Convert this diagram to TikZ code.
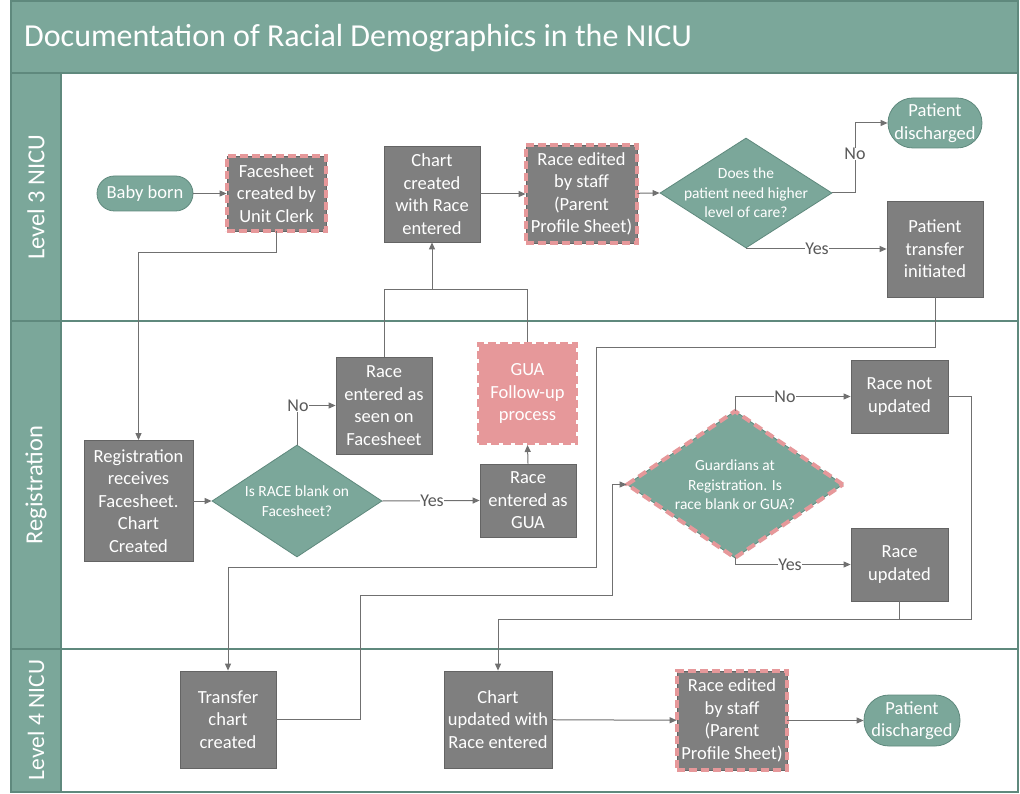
\documentclass[tikz,border=0pt]{standalone}
\usepackage{fontspec}
\setmainfont{Carlito}
\usetikzlibrary{arrows.meta,shapes.geometric}
\definecolor{teal1}{RGB}{123,167,154}
\definecolor{teal2}{RGB}{95,137,125}
\definecolor{gbox}{RGB}{127,127,127}
\definecolor{gline}{RGB}{100,100,100}
\definecolor{pinkd}{RGB}{230,152,154}
\definecolor{conn}{RGB}{112,112,112}
\definecolor{labc}{RGB}{89,89,89}
\newcommand{\boxfnt}{\fontsize{18.5}{22.5}\selectfont}
\newcommand{\diafnt}{\fontsize{15.5}{19.5}\selectfont}
\tikzset{
  procbox/.style={draw=gline, fill=gbox, text=white, align=center, font=\boxfnt, inner sep=1pt, line width=0.8pt},
  pinkdash/.style={procbox, postaction={draw=pinkd, line width=4pt, dash pattern=on 8pt off 4pt}},
  termbox/.style={draw=teal2, fill=teal1, text=white, align=center, font=\boxfnt, inner sep=1pt, line width=0.8pt},
  diabox/.style={diamond, draw=teal2, fill=teal1, inner sep=0pt, line width=0.8pt},
  diatext/.style={text=white, align=center, font=\diafnt, inner sep=0pt},
  guabox/.style={fill=pinkd, draw=pinkd, line width=4pt, dash pattern=on 8pt off 4pt, text=white, align=center, font=\boxfnt, inner sep=1pt},
  cn/.style={draw=conn, line width=1pt},
  ca/.style={cn, -{Triangle[length=7pt,width=6pt]}},
  lbl/.style={fill=white, text=labc, font=\fontsize{18}{20}\selectfont, inner sep=0.5pt},
  lanelbl/.style={text=white, font=\fontsize{24.5}{26}\selectfont, rotate=90},
}
\begin{document}
\begin{tikzpicture}[x=1pt,y=-1pt]
\useasboundingbox (0,0) rectangle (1020,794);
\fill[white] (0,0) rectangle (1020,794);
% frame
\fill[teal1] (11,1) rectangle (1018,73);
\fill[teal1] (11,73) rectangle (61,792);
\draw[teal2, line width=2pt] (11,73) -- (1018,73);
\draw[teal2, line width=2pt] (11,321) -- (1018,321);
\draw[teal2, line width=2pt] (11,649) -- (1018,649);
\draw[teal2, line width=1.2pt] (61,73) -- (61,792);
\draw[teal2, line width=2pt] (11,1) rectangle (1018,792);
\node[anchor=west, text=white, font=\fontsize{32}{36}\selectfont, inner sep=0pt] (title) at (24,38) {Documentation of Racial Demographics in the NICU};
\node[lanelbl] (l3) at (36,197) {Level 3 NICU};
\node[lanelbl] (lr) at (36,485) {Registration};
\node[lanelbl, font=\fontsize{23.5}{26}\selectfont] (l4) at (36,720) {Level 4 NICU};

% Level 3 nodes
\node[termbox, rounded corners=17.5pt, minimum width=96, minimum height=35] (baby) at (145,193.5) {Baby born};
\node[pinkdash, minimum width=99, minimum height=75] (face) at (276.5,193.5) {Facesheet\\created by\\Unit Clerk};
\node[procbox, minimum width=96, minimum height=96] (chart3) at (432,194) {Chart\\created\\with Race\\entered};
\node[pinkdash, minimum width=111, minimum height=98] (edit3) at (581.5,194) {Race edited\\by staff\\(Parent\\Profile Sheet)};
\node[diabox, minimum width=172, minimum height=110] (dq1) at (746,193) {};
\node[diatext] (dq1t) at (746,193) {Does the\\patient need higher\\level of care?};
\node[termbox, rounded corners=25pt, minimum width=94, minimum height=50] (pd1) at (935,123) {Patient\\discharged};
\node[procbox, minimum width=96, minimum height=96] (pti) at (935,249) {Patient\\transfer\\initiated};

% Registration nodes
\node[procbox, minimum width=109, minimum height=121] (reg) at (138.5,501) {Registration\\receives\\Facesheet.\\Chart\\Created};
\node[diabox, minimum width=170, minimum height=112] (dq2) at (297,501) {};
\node[diatext] (dq2t) at (297,501) {Is RACE blank on\\Facesheet?};
\node[procbox, minimum width=96, minimum height=97] (rseen) at (384,405.5) {Race\\entered as\\seen on\\Facesheet};
\node[guabox, minimum width=97, minimum height=99] (gua) at (527.5,393.5) {GUA\\Follow-up\\process};
\node[procbox, minimum width=96, minimum height=73] (rgua) at (528,500.5) {Race\\entered as\\GUA};
\node[diabox, minimum width=216, minimum height=147, postaction={draw=pinkd, line width=4pt, dash pattern=on 9pt off 5pt}] (dq3) at (735,484.5) {};
\node[diatext] (dq3t) at (735,485) {Guardians at\\Registration. Is\\race blank or GUA?};
\node[procbox, minimum width=97, minimum height=73] (rnot) at (899.5,396.5) {Race not\\updated};
\node[procbox, minimum width=97, minimum height=73] (rupd) at (899.5,564.5) {Race\\updated};

% Level 4 nodes
\node[procbox, minimum width=96, minimum height=97] (tcc) at (228,719.5) {Transfer\\chart\\created};
\node[procbox, minimum width=108, minimum height=97] (cup) at (498,719.5) {Chart\\updated with\\Race entered};
\node[pinkdash, minimum width=110, minimum height=99] (edit4) at (732,720.5) {Race edited\\by staff\\(Parent\\Profile Sheet)};
\node[termbox, rounded corners=25pt, minimum width=96, minimum height=51] (pd2) at (912,720.5) {Patient\\discharged};

% coordinates
\coordinate (j1) at (138.5,253);
\coordinate (jt) at (432,290);
\coordinate (n1) at (855,193);
\coordinate (c1) at (596,347);
\coordinate (c2) at (228,567);
\coordinate (c3) at (360,595);
\coordinate (c4) at (612,484.5);
\coordinate (c7) at (971,619);
\coordinate (c8) at (498,619);

% connectors level 3
\draw[ca] (baby) -- (face);
\draw[ca] (face.south) |- (j1) -- (reg.north);
\draw[ca] (chart3) -- (edit3);
\draw[ca] (edit3) -- (dq1.west);
\draw[ca] (dq1.east) -- (n1) |- (pd1.west);
\node[lbl] (lno1) at (855,154) {No};
\draw[ca] (dq1.south) |- (pti.west);
\node[lbl] (lyes1) at (817,249) {Yes};
\draw[cn] (rseen.north) |- (jt);
\draw[cn] (gua.north) |- (jt);
\draw[ca] (jt) -- (chart3.south);

% registration connectors
\draw[ca] (reg) -- (dq2.west);
\draw[ca] (dq2.north) |- (rseen.west);
\node[lbl] (lno2) at (298,406) {No};
\draw[ca] (dq2.east) -- (rgua.west);
\node[lbl] (lyes2) at (432,501) {Yes};
\draw[ca] (rgua.north) -- (gua.south);
\draw[ca] (pti.south) |- (c1) |- (c2) -- (tcc.north);
\draw[ca] (tcc.east) -| (c3) -| (c4) -- (dq3.west);
\draw[ca] (dq3.north) |- (rnot.west);
\node[lbl] (lno3) at (785,397) {No};
\draw[ca] (dq3.south) |- (rupd.west);
\node[lbl] (lyes3) at (790,564.5) {Yes};
\draw[cn] (rupd.south) -- (rupd.south |- c7);
\draw[ca] (rnot.east) -| (c7) -- (c8) -- (cup.north);

% level 4 connectors
\draw[ca] (cup) -- (edit4);
\draw[ca] (edit4) -- (pd2);
\end{tikzpicture}
\end{document}
